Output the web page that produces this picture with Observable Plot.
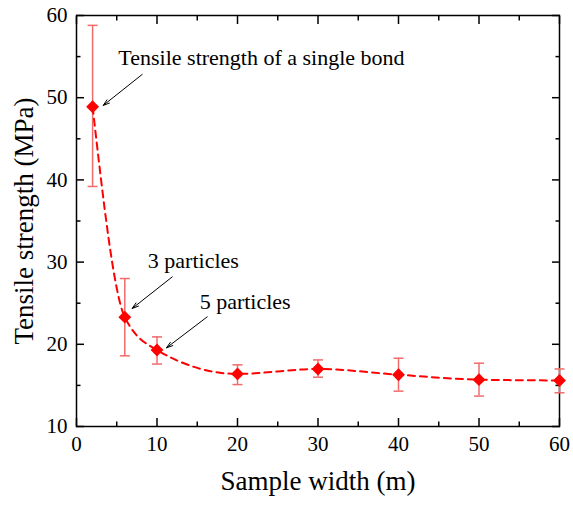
<!DOCTYPE html>
<html>
<head>
<meta charset="utf-8">
<script src="https://cdn.jsdelivr.net/npm/d3@7"></script>
<script src="https://cdn.jsdelivr.net/npm/@observablehq/plot@0.6"></script>
<style>
  html, body { margin: 0; padding: 0; background: #fff; }
  #chart { width: 573px; height: 509px; }
</style>
</head>
<body>
<div id="chart"></div>
<script>
// ---- data ----
const sampleWidth = [2, 6, 10, 20, 30, 40, 50, 60];
const strength    = [48.9, 23.3, 19.3, 16.4, 17.0, 16.3, 15.7, 15.6];
const errLow      = [39.2, 18.6, 17.6, 15.1, 16.0, 14.3, 13.7, 14.1];
const errHigh     = [58.8, 28.0, 20.9, 17.5, 18.1, 18.3, 17.7, 17.0];

const xMajorTicks = [0, 10, 20, 30, 40, 50, 60];
const xMinorTicks = [5, 15, 25, 35, 45, 55];
const yMajorTicks = [10, 20, 30, 40, 50, 60];
const yMinorTicks = [15, 25, 35, 45, 55];

const xTitle = "Sample width (m)";
const yTitle = "Tensile strength (MPa)";

const noteText = ["Tensile strength of a single bond", "3 particles", "5 particles"];
const noteX    = [5.2, 8.86, 15.3];
const noteY    = [54.8, 30.1, 25.1];
const arrowX1  = [8.16, 11.89, 16.24];
const arrowY1  = [52.83, 28.2, 23.34];
const arrowX2  = [3.32, 6.92, 11.18];
const arrowY2  = [49.06, 24.36, 19.57];

// ---- tables ----
const points = sampleWidth.map((x, i) => ({x, y: strength[i], lo: errLow[i], hi: errHigh[i]}));
const notes = noteText.map((t, i) => ({t, x: noteX[i], y: noteY[i]}));
const arrows = arrowX1.map((x1, i) => ({x1, y1: arrowY1[i], x2: arrowX2[i], y2: arrowY2[i]}));

const font = "'Liberation Serif', 'Times New Roman', serif";
const errColor = "#f26b6b";
const capSymbol = {draw(ctx, size) { const r = Math.sqrt(size / Math.PI); ctx.moveTo(-r, 0); ctx.lineTo(r, 0); }};
const blank = () => "";

const chart = Plot.plot({
  width: 573,
  height: 509,
  marginLeft: 76,
  marginRight: 14,
  marginTop: 15,
  marginBottom: 83,
  style: {fontFamily: font, background: "#fff", color: "#000"},
  x: {domain: [0, 60]},
  y: {domain: [10, 60]},
  marks: [
    // axes: inward ticks
    Plot.axisX({anchor: "bottom", ticks: xMajorTicks, tickSize: -8, tickPadding: 18, fontSize: 21, fontFamily: font, label: null, strokeWidth: 1.5}),
    Plot.axisX({anchor: "bottom", ticks: xMinorTicks, tickSize: -4.5, tickFormat: blank, label: null, strokeWidth: 1.5}),
    Plot.axisX({anchor: "top", ticks: xMajorTicks, tickSize: -8, tickFormat: blank, label: null, strokeWidth: 1.5}),
    Plot.axisX({anchor: "top", ticks: xMinorTicks, tickSize: -4.5, tickFormat: blank, label: null, strokeWidth: 1.5}),
    Plot.axisY({anchor: "left", ticks: yMajorTicks, tickSize: -8, tickPadding: 17, fontSize: 21, fontFamily: font, label: null, strokeWidth: 1.5}),
    Plot.axisY({anchor: "left", ticks: yMinorTicks, tickSize: -4.5, tickFormat: blank, label: null, strokeWidth: 1.5}),
    Plot.axisY({anchor: "right", ticks: yMajorTicks, tickSize: -8, tickFormat: blank, label: null, strokeWidth: 1.5}),
    Plot.axisY({anchor: "right", ticks: yMinorTicks, tickSize: -4.5, tickFormat: blank, label: null, strokeWidth: 1.5}),
    Plot.frame({stroke: "#000", strokeWidth: 1.5}),
    // titles
    Plot.text([xTitle], {text: d => d, frameAnchor: "bottom", textAnchor: "middle", dy: 63, fontSize: 27, fontFamily: font, fill: "#000"}),
    Plot.text([yTitle], {text: d => d, frameAnchor: "left", textAnchor: "middle", rotate: -90, dx: -52, fontSize: 27, fontFamily: font, fill: "#000"}),
    // error bars
    Plot.ruleX(points, {x: "x", y1: "lo", y2: "hi", stroke: errColor, strokeWidth: 1.5}),
    Plot.dot(points, {x: "x", y: "lo", symbol: capSymbol, r: 5, stroke: errColor, fill: "none", strokeWidth: 1.5}),
    Plot.dot(points, {x: "x", y: "hi", symbol: capSymbol, r: 5, stroke: errColor, fill: "none", strokeWidth: 1.5}),
    // dashed curve
    Plot.line(points, {x: "x", y: "y", stroke: "#ff0000", strokeWidth: 2, strokeDasharray: "7,5", curve: "monotone-x"}),
    // markers
    Plot.dot(points, {x: "x", y: "y", symbol: "diamond2", r: 5.8, fill: "#ff0000", stroke: "none"}),
    // annotations
    Plot.arrow(arrows, {x1: "x1", y1: "y1", x2: "x2", y2: "y2", stroke: "#000", strokeWidth: 1, headLength: 10, headAngle: 35}),
    Plot.text(notes, {x: "x", y: "y", text: "t", textAnchor: "start", fontSize: 22, fontFamily: font, fill: "#000"})
  ]
});
document.getElementById("chart").appendChild(chart);
</script>
</body>
</html>
